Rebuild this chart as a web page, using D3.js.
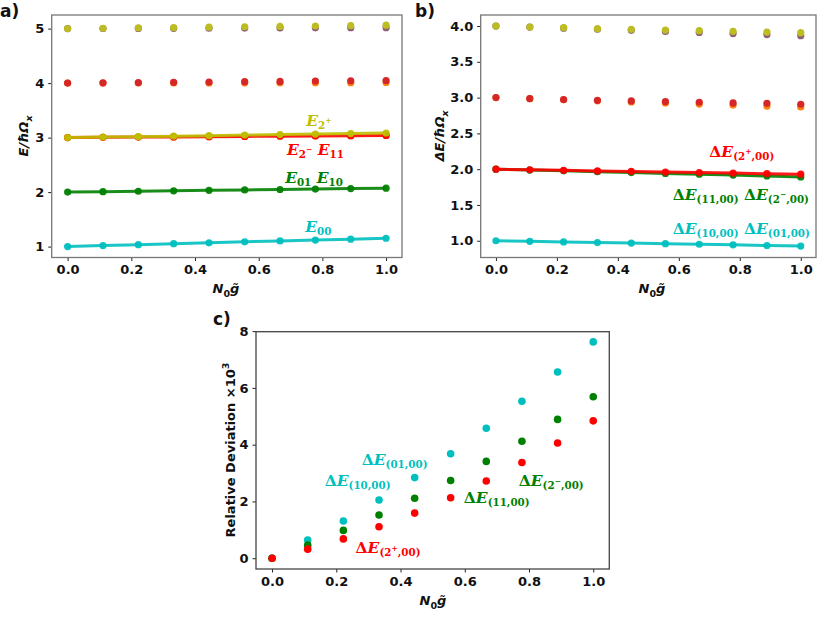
<!DOCTYPE html>
<html><head><meta charset="utf-8">
<script src="https://cdn.jsdelivr.net/npm/d3@7"></script>
<style>body{margin:0;background:#fff}svg{display:block}</style>
</head><body><svg id="c" width="831" height="624"></svg>
<script>
// ---------- data ----------
const xs = [0, 0.111, 0.222, 0.333, 0.444, 0.556, 0.667, 0.778, 0.889, 1.0];
const xTicks = [0, 0.2, 0.4, 0.6, 0.8, 1.0];

// panel a: energies
const aE00 = [1.0, 1.018, 1.035, 1.053, 1.07, 1.087, 1.104, 1.12, 1.137, 1.153];
const aE01 = [2.0, 2.008, 2.016, 2.024, 2.032, 2.04, 2.048, 2.056, 2.064, 2.073];
const aE2m = [3.0, 3.005, 3.009, 3.013, 3.018, 3.022, 3.027, 3.031, 3.036, 3.04];
const aE2p = [3.0, 3.009, 3.018, 3.027, 3.036, 3.046, 3.055, 3.065, 3.075, 3.085];
const aL4a = [4.0, 4.001, 4.002, 4.003, 4.004, 4.005, 4.006, 4.008, 4.009, 4.011];
const aL4b = [4.0, 4.005, 4.01, 4.015, 4.02, 4.026, 4.031, 4.037, 4.042, 4.048];
const aL5a = [5.0, 5.002, 5.004, 5.006, 5.008, 5.01, 5.012, 5.014, 5.016, 5.018];
const aL5b = [5.0, 5.007, 5.013, 5.02, 5.027, 5.034, 5.041, 5.048, 5.055, 5.063];
const aYTicks = [1, 2, 3, 4, 5];

// panel b: excitation energies
const bD10 = [1.0, 0.992, 0.984, 0.975, 0.967, 0.959, 0.951, 0.943, 0.934, 0.925];
const bD11 = [2.0, 1.988, 1.977, 1.965, 1.953, 1.941, 1.929, 1.917, 1.905, 1.892];
const bD2p = [2.0, 1.992, 1.984, 1.976, 1.968, 1.96, 1.953, 1.945, 1.937, 1.93];
const bL3a = [3.0, 2.985, 2.97, 2.955, 2.94, 2.925, 2.91, 2.895, 2.882, 2.87];
const bL3b = [3.0, 2.986, 2.972, 2.962, 2.953, 2.944, 2.935, 2.925, 2.92, 2.907];
const bL4a = [4.0, 3.985, 3.97, 3.955, 3.94, 3.925, 3.91, 3.895, 3.88, 3.865];
const bL4b = [4.0, 3.986, 3.977, 3.963, 3.954, 3.944, 3.935, 3.926, 3.916, 3.907];
const bYTicks = [1.0, 1.5, 2.0, 2.5, 3.0, 3.5, 4.0];

// panel c: relative deviation x 10^3
const cD10 = [0, 0.64, 1.31, 2.05, 2.84, 3.68, 4.58, 5.53, 6.56, 7.62];
const cD11 = [0, 0.46, 0.98, 1.52, 2.11, 2.74, 3.41, 4.12, 4.89, 5.69];
const cD2p = [0, 0.32, 0.68, 1.11, 1.59, 2.13, 2.72, 3.37, 4.06, 4.84];
const cYTicks = [0, 2, 4, 6, 8];

const C = {cyan:'#00bfbf', green:'#008000', red:'#ff0000', yel:'#bfbf00',
  tred:'#d62728', torange:'#ff7f0e', tolive:'#bcbd22', tmauve:'#8f6075'};

const svg = d3.select('#c');
const FONT = '"DejaVu Sans", sans-serif';

function panel(box, xd, yd, yTicks, yFmt, frameColor) {
  const x = d3.scaleLinear().domain(xd).range([box.l, box.r]);
  const y = d3.scaleLinear().domain(yd).range([box.b, box.t]);
  const g = svg.append('g');
  const ax = g.append('g').attr('transform', `translate(0,${box.b})`)
    .call(d3.axisBottom(x).tickValues(xTicks).tickFormat(d3.format('.1f')).tickSize(3.5).tickPadding(4));
  const ay = g.append('g').attr('transform', `translate(${box.l},0)`)
    .call(d3.axisLeft(y).tickValues(yTicks).tickFormat(yFmt).tickSize(3.5).tickPadding(4));
  [ax, ay].forEach(a => {
    a.select('.domain').remove();
    a.selectAll('text').style('font-family', FONT).style('font-weight', 'bold').style('font-size', '13px').attr('fill', '#111');
    a.selectAll('line').attr('stroke', '#222');
  });
  g.append('rect').attr('x', box.l).attr('y', box.t).attr('width', box.r - box.l).attr('height', box.b - box.t)
    .attr('fill', 'none').attr('stroke', frameColor).attr('stroke-width', 1.3);
  const plot = g.append('g');
  return {x, y, g, plot};
}

function dots(p, vals, color, r, op) {
  p.plot.append('g').selectAll('circle').data(vals).join('circle')
    .attr('cx', (d, i) => p.x(xs[i])).attr('cy', d => p.y(d)).attr('r', r).attr('fill', color)
    .attr('opacity', op == null ? 1 : op);
}
function line(p, vals, color) {
  const ln = d3.line().x((d, i) => p.x(xs[i])).y(d => p.y(d));
  p.plot.append('path').datum(vals).attr('d', ln).attr('fill', 'none').attr('stroke', color)
    .attr('stroke-width', 3).attr('opacity', 0.9);
  dots(p, vals, color, 3.6, 0.95);
}

// math label: segs = [text, level, italic]
function mathLabel(p, xv, yv, segs, color) {
  const t = p.g.append('text').attr('x', p.x(xv)).attr('y', p.y(yv)).attr('fill', color)
    .style('font-family', '"DejaVu Serif", serif').style('font-weight', 'bold');
  const off = [0, 3, -2.5];
  const size = [15.5, 10.3, 7.5];
  let cur = 0;
  segs.forEach(([s, lvl, it]) => {
    t.append('tspan').attr('dy', off[lvl] - cur).style('font-size', size[lvl] + 'px')
      .style('font-style', it ? 'italic' : 'normal').text(s);
    cur = off[lvl];
  });
}
function axisLabel(x, y, rot, parts) {
  const t = svg.append('text').attr('transform', `translate(${x},${y}) rotate(${rot})`)
    .attr('text-anchor', 'middle').style('font-family', FONT).style('font-weight', 'bold')
    .style('font-size', '13px').attr('fill', '#111');
  let cur = 0;
  const offs = [0, 4, -6];
  parts.forEach(([s, lvl, it]) => {
    const o = offs[lvl];
    t.append('tspan').attr('dy', o - cur).style('font-size', lvl ? '9.5px' : '13px')
      .style('font-style', it ? 'italic' : 'normal').text(s);
    cur = o;
  });
}
function panelTag(x, y, s) {
  svg.append('text').attr('x', x).attr('y', y).style('font-family', FONT).style('font-weight', 'bold')
    .style('font-size', '17px').attr('fill', '#111').text(s);
}

// ---------- panel a ----------
const pa = panel({l: 51.7, r: 402, t: 15, b: 257.5}, [-0.05, 1.05], [0.8, 5.25], aYTicks, d3.format('d'), '#777');
dots(pa, aL5a, C.tmauve, 3.6);
dots(pa, aL5b, C.tolive, 3.6);
dots(pa, aL4a, C.torange, 3.6);
dots(pa, aL4b, C.tred, 3.6);
dots(pa, aE2m, C.torange, 3.6);
line(pa, aE00, C.cyan);
line(pa, aE01, C.green);
line(pa, aE2m, C.red);
line(pa, aE2p, C.yel);
mathLabel(pa, 0.749, 3.216, [['E', 0, 1], ['2', 1, 0], ['+', 2, 0]], C.yel);
mathLabel(pa, 0.689, 2.685, [['E', 0, 1], ['2', 1, 0], ['−', 2, 0], [' ', 0, 0], ['E', 0, 1], ['11', 1, 0]], C.red);
mathLabel(pa, 0.683, 2.167, [['E', 0, 1], ['01', 1, 0], [' ', 0, 0], ['E', 0, 1], ['10', 1, 0]], C.green);
mathLabel(pa, 0.746, 1.27, [['E', 0, 1], ['00', 1, 0]], C.cyan);

// ---------- panel b ----------
const pb = panel({l: 480.7, r: 816, t: 15, b: 257.5}, [-0.05, 1.05], [0.766, 4.154], bYTicks, d3.format('.1f'), '#777');
dots(pb, bL4a, C.tmauve, 3.6);
dots(pb, bL4b, C.tolive, 3.6);
dots(pb, bL3a, C.torange, 3.6);
dots(pb, bL3b, C.tred, 3.6);
line(pb, bD10, C.cyan);
line(pb, bD11, C.green);
line(pb, bD2p, C.red);
mathLabel(pb, 0.70, 2.176, [['Δ', 0, 0], ['E', 0, 1], ['(2', 1, 0], ['+', 2, 0], [',00)', 1, 0]], C.red);
mathLabel(pb, 0.58, 1.572, [['Δ', 0, 0], ['E', 0, 1], ['(11,00)', 1, 0], [' ', 0, 0], ['Δ', 0, 0], ['E', 0, 1], ['(2', 1, 0], ['−', 2, 0], [',00)', 1, 0]], C.green);
mathLabel(pb, 0.58, 1.093, [['Δ', 0, 0], ['E', 0, 1], ['(10,00)', 1, 0], [' ', 0, 0], ['Δ', 0, 0], ['E', 0, 1], ['(01,00)', 1, 0]], C.cyan);

// ---------- panel c ----------
const pc = panel({l: 256, r: 609.3, t: 331.7, b: 569}, [-0.05, 1.05], [-0.38, 7.98], cYTicks, d3.format('d'), '#444');
dots(pc, cD10, C.cyan, 3.8);
dots(pc, cD11, C.green, 3.8);
dots(pc, cD2p, C.red, 3.8);
mathLabel(pc, 0.279, 3.29, [['Δ', 0, 0], ['E', 0, 1], ['(01,00)', 1, 0]], C.cyan);
mathLabel(pc, 0.164, 2.53, [['Δ', 0, 0], ['E', 0, 1], ['(10,00)', 1, 0]], C.cyan);
mathLabel(pc, 0.597, 1.96, [['Δ', 0, 0], ['E', 0, 1], ['(11,00)', 1, 0]], C.green);
mathLabel(pc, 0.768, 2.53, [['Δ', 0, 0], ['E', 0, 1], ['(2', 1, 0], ['−', 2, 0], [',00)', 1, 0]], C.green);
mathLabel(pc, 0.26, 0.18, [['Δ', 0, 0], ['E', 0, 1], ['(2', 1, 0], ['+', 2, 0], [',00)', 1, 0]], C.red);

// ---------- axis labels & tags ----------
axisLabel(28, 136, -90, [['E/ħΩ', 0, 1], ['x', 1, 1]]);
axisLabel(444, 136, -90, [['ΔE/ħΩ', 0, 1], ['x', 1, 1]]);
axisLabel(235, 450, -90, [['Relative Deviation ×10', 0, 0], ['3', 2, 0]]);
axisLabel(226, 293, 0, [['N', 0, 1], ['0', 1, 0], ['g̃', 0, 1]]);
axisLabel(652, 293, 0, [['N', 0, 1], ['0', 1, 0], ['g̃', 0, 1]]);
axisLabel(433, 605, 0, [['N', 0, 1], ['0', 1, 0], ['g̃', 0, 1]]);
panelTag(0, 17, 'a)');
panelTag(415, 17, 'b)');
panelTag(213, 325, 'c)');
</script>
</body></html>
